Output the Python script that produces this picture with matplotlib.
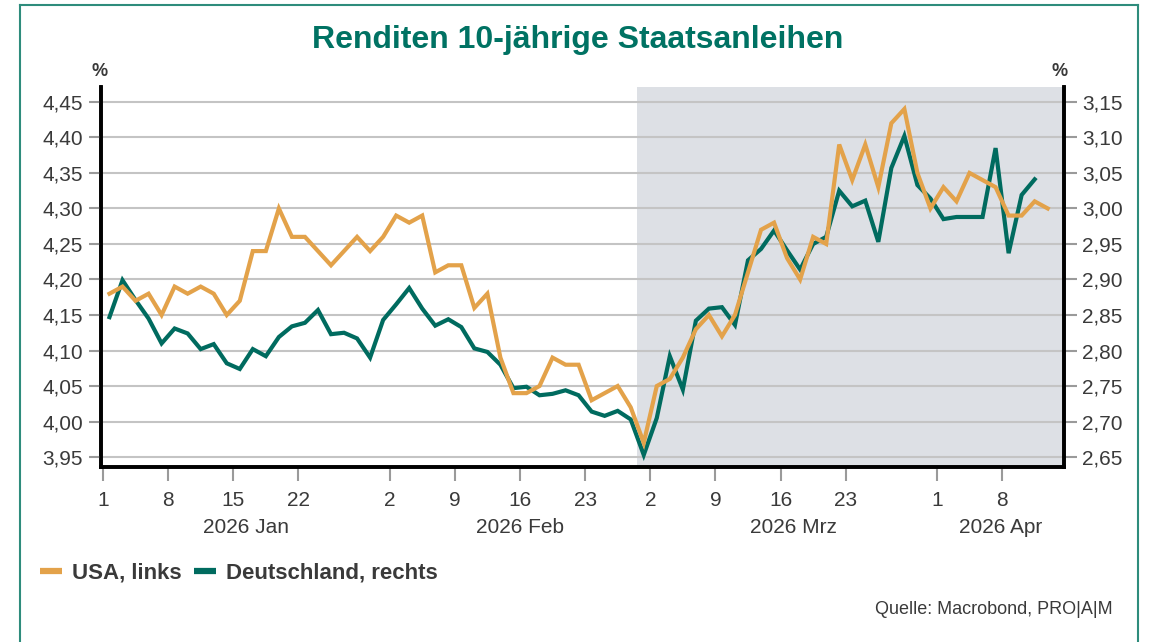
import numpy as np
import pandas as pd
import matplotlib
matplotlib.use('Agg')
import matplotlib.pyplot as plt
from matplotlib.lines import Line2D
from matplotlib.transforms import blended_transform_factory

plt.rcParams['font.family'] = ['Liberation Sans', 'DejaVu Sans']

# Daten (Handelstage ab 1. Jan 2026)
dates = pd.bdate_range('2026-01-01', periods=73)

usa = [4.18, 4.19, 4.17, 4.18, 4.15, 4.19, 4.18, 4.19, 4.18, 4.15,
       4.17, 4.24, 4.24, 4.30, 4.26, 4.26, 4.24, 4.22, 4.24, 4.26,
       4.24, 4.26, 4.29, 4.28, 4.29, 4.21, 4.22, 4.22, 4.16, 4.18,
       4.09, 4.04, 4.04, 4.05, 4.09, 4.08, 4.08, 4.03, 4.04, 4.05,
       4.02, 3.97, 4.05, 4.06, 4.09, 4.13, 4.15, 4.12, 4.15, 4.21,
       4.27, 4.28, 4.23, 4.20, 4.26, 4.25, 4.39, 4.34, 4.39, 4.33,
       4.42, 4.44, 4.35, 4.30, 4.33, 4.31, 4.35, 4.34, 4.33, 4.29,
       4.29, 4.31, 4.30]

deu = [2.847, 2.899, 2.871, 2.845, 2.810, 2.831, 2.824, 2.802, 2.809, 2.782,
       2.774, 2.802, 2.792, 2.819, 2.834, 2.839, 2.857, 2.823, 2.825, 2.817,
       2.790, 2.843, 2.865, 2.888, 2.859, 2.835, 2.844, 2.833, 2.803, 2.798,
       2.780, 2.747, 2.749, 2.737, 2.739, 2.744, 2.737, 2.714, 2.708, 2.715,
       2.703, 2.653, 2.705, 2.792, 2.745, 2.842, 2.859, 2.861, 2.836, 2.927,
       2.943, 2.969, 2.941, 2.914, 2.950, 2.960, 3.025, 3.003, 3.011, 2.953,
       3.057, 3.102, 3.033, 3.014, 2.985, 2.988, 2.988, 2.988, 3.085, 2.937,
       3.019, 3.041]

tick_dates = ['2026-01-01', '2026-01-08', '2026-01-15', '2026-01-22',
              '2026-02-02', '2026-02-09', '2026-02-16', '2026-02-23',
              '2026-03-02', '2026-03-09', '2026-03-16', '2026-03-23',
              '2026-04-01', '2026-04-08']
month_starts = ['2026-01-01', '2026-02-02', '2026-03-02', '2026-04-01']
month_labels = ['2026 Jan', '2026 Feb', '2026 Mrz', '2026 Apr']
shade_start = '2026-02-27'

left_ticks = [3.95, 4.00, 4.05, 4.10, 4.15, 4.20, 4.25, 4.30, 4.35, 4.40, 4.45]
right_ticks = [2.65, 2.70, 2.75, 2.80, 2.85, 2.90, 2.95, 3.00, 3.05, 3.10, 3.15]

orange = '#E3A24A'
teal = '#006B5F'
txt = '#3a3a3a'

pos = {d: i for i, d in enumerate(dates)}
x_usa = np.arange(len(usa)) + 0.5
x_deu = np.arange(len(deu)) + 0.5
xmin, xmax = -0.15, 73.75

fig = plt.figure(figsize=(11.53, 6.42), dpi=100)
ax2 = fig.add_axes([101/1153, 1-467/642, 963/1153, 380/642])
ax = ax2.twinx()
ax.set_zorder(ax2.get_zorder() + 1)
ax.patch.set_visible(False)

# Hintergrund, Gitter, Deutschland (rechte Achse)
ax2.axvspan(pos[pd.Timestamp(shade_start)], xmax, color='#DDE0E5', lw=0, zorder=0)
for v in right_ticks:
    ax2.axhline(v, color='#C4C4C4', lw=1.5, zorder=1)
ax2.plot(x_deu, deu, color=teal, lw=3, zorder=3, solid_joinstyle='miter')
ax.plot(x_usa, usa, color=orange, lw=3, zorder=4, solid_joinstyle='miter')

ax.set_ylim(3.936, 4.471)
ax2.set_ylim(3.936 - 1.30, 4.471 - 1.30)
ax2.set_xlim(xmin, xmax)

# y-Achsen: links USA, rechts Deutschland
ax2.set_yticks(right_ticks)
ax2.set_yticklabels([])
ax2.tick_params(axis='y', left=False, right=False)
ax.set_yticks(left_ticks)
ax.set_yticklabels([f'{v:.2f}'.replace('.', ',') for v in left_ticks])
ax.tick_params(axis='y', which='both', left=True, right=False, labelleft=True,
               labelright=False, length=9, width=1.5, color='#9a9a9a',
               labelsize=15, labelcolor=txt, pad=4)

ax3 = ax2.secondary_yaxis('right')
ax3.set_yticks(right_ticks)
ax3.set_yticklabels([f'{v:.2f}'.replace('.', ',') for v in right_ticks])
ax3.tick_params(length=9, width=1.5, color='#9a9a9a', labelsize=15, labelcolor=txt, pad=4)
ax3.spines['right'].set_visible(False)

# x-Achse
ax2.set_xticks([pos[pd.Timestamp(d)] for d in tick_dates])
ax2.set_xticklabels([str(pd.Timestamp(d).day) for d in tick_dates])
ax2.tick_params(axis='x', length=10, width=1.5, color='#9a9a9a', labelsize=15,
                labelcolor=txt, pad=7)
ax.tick_params(axis='x', bottom=False, labelbottom=False)

starts = [pos[pd.Timestamp(d)] for d in month_starts] + [xmax]
trans = blended_transform_factory(ax2.transData, ax2.transAxes)
for i, lab in enumerate(month_labels):
    ax2.text((starts[i] + starts[i+1]) / 2, -0.16, lab, transform=trans,
             ha='center', va='center', fontsize=15, color=txt)

for a in (ax, ax2):
    a.spines['top'].set_visible(False)
    for s in ('left', 'right', 'bottom'):
        a.spines[s].set_color('black')
        a.spines[s].set_linewidth(2.6)

fig.text(578/1153, 1-40/642, 'Renditen 10-jährige Staatsanleihen', ha='center', va='center',
         fontsize=23, fontweight='bold', color='#007263')
fig.text(100/1153, 1-72/642, '%', ha='center', va='center', fontsize=13,
         fontweight='bold', color=txt)
fig.text(1060/1153, 1-72/642, '%', ha='center', va='center', fontsize=13,
         fontweight='bold', color=txt)

handles = [Line2D([], [], color=orange, lw=4.5, solid_capstyle='butt'),
           Line2D([], [], color=teal, lw=4.5, solid_capstyle='butt')]
fig.legend(handles, ['USA, links', 'Deutschland, rechts'], loc='center left',
           bbox_to_anchor=(40/1153, 1-573/642), frameon=False, ncol=2,
           handlelength=1.0, handletextpad=0.45, columnspacing=0.55,
           borderpad=0, borderaxespad=0,
           prop={'size': 16, 'weight': 'bold'}, labelcolor=txt)

fig.text(1113/1153, 1-610/642, 'Quelle: Macrobond, PRO|A|M', ha='right', va='center',
         fontsize=13, color=txt)

# Rahmen
bc = '#2E8C7C'
fig.add_artist(Line2D([20/1153, 20/1153], [0, 1-5/642], transform=fig.transFigure, color=bc, lw=1.5))
fig.add_artist(Line2D([1138/1153, 1138/1153], [0, 1-5/642], transform=fig.transFigure, color=bc, lw=1.5))
fig.add_artist(Line2D([20/1153, 1138/1153], [1-5/642, 1-5/642], transform=fig.transFigure, color=bc, lw=1.5))

fig.savefig('out.png', dpi=100)
